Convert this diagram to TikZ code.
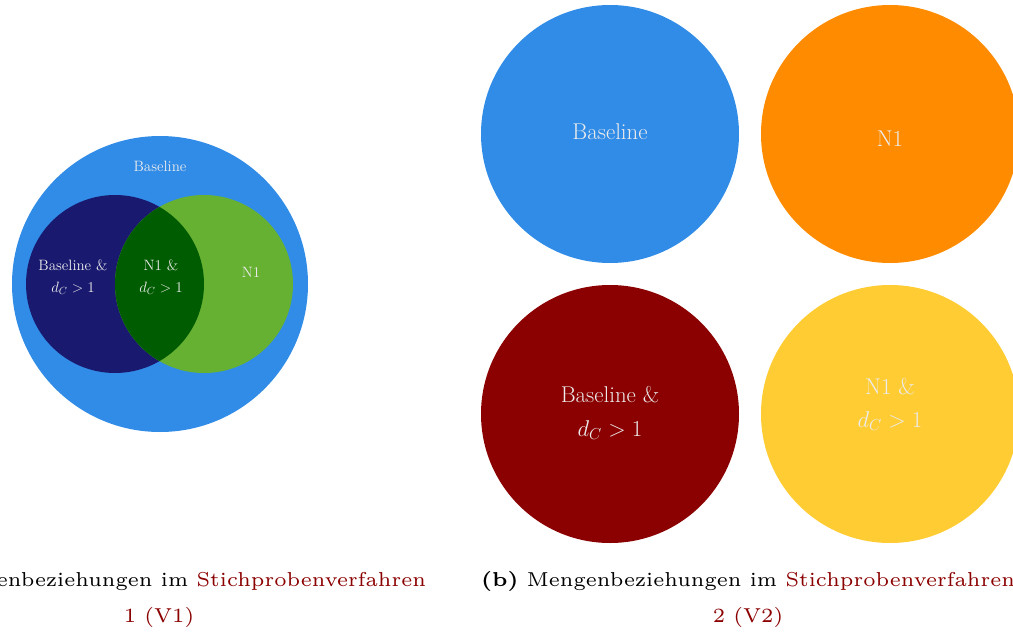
\documentclass[tikz,border=0pt]{standalone}
\definecolor{cblue}{HTML}{318CE7}
\definecolor{cnavy}{HTML}{191970}
\definecolor{cgreen}{HTML}{66B032}
\definecolor{cinter}{HTML}{005C00}
\definecolor{corange}{HTML}{FF8C00}
\definecolor{cdred}{HTML}{8B0000}
\definecolor{cyellow}{HTML}{FFCC33}
\definecolor{ctext}{HTML}{ECECEC}
\definecolor{ccap}{HTML}{8B0000}
\tikzset{
  setcirc/.style={circle, inner sep=0pt, minimum size=#1},
  smalllbl/.style={text=ctext, font=\fontsize{14.4}{17}\selectfont, align=center, inner sep=0pt, scale=1.04},
  biglbl/.style={text=ctext, font=\fontsize{20.74}{24}\selectfont, align=center, inner sep=0pt, scale=1.1},
  caplbl/.style={font=\fontsize{6}{7}\selectfont, inner sep=0pt, scale=3.36}
}
\begin{document}
\begin{tikzpicture}[x=1pt,y=-1pt]
\clip (0,0) rectangle (1013,632);
\useasboundingbox (0,0) rectangle (1013,632);
% left Venn
\node[setcirc=296pt, fill=cblue] (base) at (160,284) {};
\node[setcirc=178pt, fill=cnavy] (bdc) at (115,284) {};
\node[setcirc=178pt, fill=cgreen] (n1) at (204,284) {};
\begin{scope}
  \clip (115,284) circle (89pt);
  \fill[cinter] (204,284) circle (89pt);
\end{scope}
\node[smalllbl] (lbase) at (160,166) {Baseline};
\node[smalllbl] (lbdc1) at (73,265) {Baseline \&};
\node[smalllbl] (lbdc2) at (73,288) {$d_C>1$};
\node[smalllbl] (lndc1) at (161,265) {N1 \&};
\node[smalllbl] (lndc2) at (161,288) {$d_C>1$};
\node[smalllbl] (ln1) at (251,272) {N1};
% right four circles
\node[setcirc=258pt, fill=cblue] (rbase) at (610,134) {};
\node[setcirc=258pt, fill=corange] (rn1) at (890,134) {};
\node[setcirc=258pt, fill=cdred] (rbdc) at (610,414) {};
\node[setcirc=258pt, fill=cyellow] (rndc) at (890,414) {};
\node[biglbl] (trbase) at (610,132) {Baseline};
\node[biglbl] (trn1) at (890,139) {N1};
\node[biglbl] (trbdc1) at (610,395) {Baseline \&};
\node[biglbl] (trbdc2) at (610,430) {$d_C>1$};
\node[biglbl] (trndc1) at (890,387) {N1 \&};
\node[biglbl] (trndc2) at (890,421) {$d_C>1$};
% captions
\node[caplbl] (capa1) at (160,581) {\textbf{(a)} Mengenbeziehungen im \textcolor{ccap}{Stichprobenverfahren}};
\node[caplbl] (capa2) at (159,617) {\textcolor{ccap}{1 (V1)}};
\node[caplbl] (capb1) at (748,581) {\textbf{(b)} Mengenbeziehungen im \textcolor{ccap}{Stichprobenverfahren}};
\node[caplbl] (capb2) at (748,617) {\textcolor{ccap}{2 (V2)}};
\end{tikzpicture}
\end{document}
